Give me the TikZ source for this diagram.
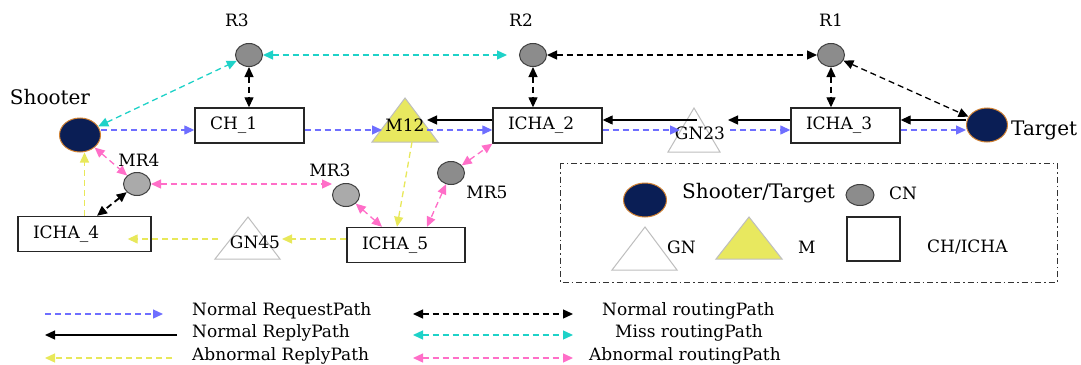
\documentclass[tikz,border=0pt]{standalone}
\usepackage{fontspec}
\setmainfont{DejaVu Serif}
\usetikzlibrary{arrows.meta,shapes.geometric}
\definecolor{reqblue}{RGB}{110,110,255}
\definecolor{misscyan}{RGB}{30,210,200}
\definecolor{abpink}{RGB}{255,110,200}
\definecolor{abyellow}{RGB}{232,232,90}
\definecolor{navy}{RGB}{10,30,85}
\definecolor{rim}{RGB}{210,130,50}
\definecolor{cngray}{RGB}{140,140,140}
\definecolor{mrgray}{RGB}{170,170,170}
\definecolor{mfill}{RGB}{232,232,95}
\definecolor{trigray}{RGB}{190,190,190}
\begin{document}
\begin{tikzpicture}[x=1pt,y=-1pt,font=\fontsize{17}{19}\selectfont,
  >={Triangle[length=10pt,width=9pt]},
  endpt/.style={ellipse,fill=navy,draw=rim,line width=1pt,minimum width=41pt,minimum height=34pt,inner sep=0pt},
  cn/.style={ellipse,fill=cngray,draw=black!75,line width=1pt,minimum width=27pt,minimum height=23pt,inner sep=0pt},
  mr/.style={cn,fill=mrgray},
  box/.style={draw=black!85,line width=1.4pt,fill=white,minimum height=35pt,inner xsep=15pt,inner ysep=0pt,align=left,text width=#1},
  lbl/.style={inner sep=0pt},
  bigl/.style={inner sep=0pt,font=\fontsize{20}{22}\selectfont},
  req/.style={reqblue,dash pattern=on 6pt off 4pt,line width=1.3pt,->},
  rep/.style={black,line width=1.3pt,->},
  abrep/.style={abyellow,dash pattern=on 6pt off 4pt,line width=1.3pt,->},
  route/.style={black,dash pattern=on 6pt off 4pt,line width=1.3pt,<->},
  miss/.style={misscyan,dash pattern=on 6pt off 4pt,line width=1.3pt,<->},
  abroute/.style={abpink,dash pattern=on 6pt off 4pt,line width=1.3pt,<->},
  gnT/.style={fill=white,draw=trigray,line width=1pt},
  mT/.style={fill=mfill,draw=trigray,line width=1pt},
  legframe/.style={draw=black!80,line width=1pt,dash pattern=on 6pt off 3pt on 1.5pt off 3pt}
]
\fill[white] (0,0) rectangle (1081,364);
\useasboundingbox (0,0) rectangle (1081,364);

% triangles
\draw[mT] (372,142) -- (438,142) -- (405,98) -- cycle;
\draw[gnT] (668,152) -- (720,152) -- (694,108) -- cycle;
\draw[gnT] (215,259) -- (280,259) -- (248,217) -- cycle;
\draw[gnT] (612,270) -- (677,270) -- (645,227) -- cycle;
\draw[mT] (716,259) -- (782,259) -- (749,217) -- cycle;

% nodes
\node[endpt] (shooter) at (80,135) {};
\node[endpt] (target) at (987,125) {};
\node[cn] (r3) at (249,55) {};
\node[cn] (r2) at (533,55) {};
\node[cn] (r1) at (831,55) {};
\node[mr] (mr4) at (137,184) {};
\node[mr] (mr3) at (346,195) {};
\node[cn] (mr5) at (451,173) {};
\node[box=79pt] (ch1) at (249.5,125.5) {CH\_1};
\node[box=79pt] (icha2) at (547.5,125.5) {ICHA\_2};
\node[box=79pt] (icha3) at (845.5,125.5) {ICHA\_3};
\node[box=103pt] (icha4) at (84.5,234) {ICHA\_4};
\node[box=88pt] (icha5) at (406,245) {ICHA\_5};

% labels
\node[lbl] (m12) at (405,125) {M12};
\node[lbl] (gn23) at (700,133) {GN23};
\node[lbl] (gn45) at (255,242) {GN45};
\node[lbl] (r3l) at (237,20) {R3};
\node[lbl] (r2l) at (521,20) {R2};
\node[lbl] (r1l) at (831,20) {R1};
\node[bigl] (shl) at (50,97) {Shooter};
\node[bigl,anchor=west] (tgl) at (1011,130) {Target};
\node[lbl] (mr4l) at (139,160) {MR4};
\node[lbl] (mr3l) at (330,170) {MR3};
\node[lbl] (mr5l) at (487,192) {MR5};

% request path
\draw[req] ([yshift=5pt]shooter.east) -- ([yshift=-4.5pt]ch1.west);
\draw[req] ([yshift=-4.5pt]ch1.east) -- ([xshift=-23pt,yshift=-5pt]m12.center);
\draw[req] ([xshift=22pt,yshift=-5pt]m12.center) -- ([yshift=-4.5pt]icha2.west);
\draw[req] ([yshift=-4.5pt]icha2.east) -- ([xshift=-20pt,yshift=3pt]gn23.center);
\draw[req] ([xshift=30pt,yshift=3pt]gn23.center) -- ([yshift=-4.5pt]icha3.west);
\draw[req] ([yshift=-4.5pt]icha3.east) -- ([yshift=-5pt]target.west);

% reply path
\draw[rep] ([yshift=5.5pt]icha2.west) -- ([xshift=22pt,yshift=5pt]m12.center);
\draw[rep] ([xshift=-3pt,yshift=13pt]gn23.center) -- ([yshift=5.5pt]icha2.east);
\draw[rep] ([yshift=5.5pt]icha3.west) -- ([xshift=28pt,yshift=13pt]gn23.center);
\draw[rep] ([yshift=5pt]target.west) -- ([yshift=5.5pt]icha3.east);

% abnormal reply
\draw[abrep] ([xshift=7pt,yshift=-17pt]m12.center) -- ([xshift=-9pt]icha5.north);
\draw[abrep] ([yshift=6pt]icha5.west) -- ([xshift=27pt,yshift=3pt]gn45.center);
\draw[abrep] ([xshift=-37pt,yshift=3pt]gn45.center) -- ([xshift=-24pt,yshift=-5pt]icha4.east);
\draw[abrep] (icha4.north) -- (icha4.north |- shooter.south);

% routing
\draw[miss] (shooter) -- (r3);
\draw[miss,shorten >=12pt] (r3) -- (r2);
\draw[route] (r2) -- (r1);
\draw[route] (r1) -- (target);
\draw[route] (r3) -- (r3 |- ch1.north);
\draw[route] (r2) -- (r2 |- icha2.north);
\draw[route] (r1) -- (r1 |- icha3.north);
\draw[route,line width=1.8pt] (mr4) -- ([xshift=12.5pt]icha4.north);
\draw[abroute] (shooter) -- (mr4);
\draw[abroute] (mr4.east) -- (mr4.east -| mr3.west);
\draw[abroute] (mr3) -- ([xshift=-24pt]icha5.north);
\draw[abroute] (mr5) -- ([xshift=21pt]icha5.north);
\draw[abroute] (mr5) -- (icha2.south west);

% legend box
\draw[legframe] (560,163) rectangle (1057,282);
\node[endpt,minimum width=43pt] (lgs) at (645,200) {};
\node[bigl,anchor=west] (lgst) at (682,193) {Shooter/Target};
\node[cn,minimum width=28pt,minimum height=21pt] (lgc) at (860,195) {};
\node[lbl,anchor=west] (lgct) at (889,193) {CN};
\node[lbl,anchor=west] (lggt) at (667,247) {GN};
\node[lbl,anchor=west] (lgmt) at (798,247) {M};
\node[draw=black!85,line width=1.4pt,minimum width=53pt,minimum height=44pt,inner sep=0pt] (lgb) at (873.5,239) {};
\node[lbl,anchor=west] (lgbt) at (927,247) {CH/ICHA};

% bottom legend
\coordinate (a1s) at (45,314); \coordinate (a1e) at (163,314);
\coordinate (a2s) at (177,335); \coordinate (a2e) at (45,335);
\coordinate (a3s) at (172,358); \coordinate (a3e) at (45,358);
\coordinate (b1s) at (413,314); \coordinate (b1e) at (573,314);
\coordinate (b2s) at (413,335); \coordinate (b2e) at (573,335);
\coordinate (b3s) at (413,358); \coordinate (b3e) at (573,358);
\draw[req] (a1s) -- (a1e);
\draw[rep] (a2s) -- (a2e);
\draw[abrep] (a3s) -- (a3e);
\draw[route] (b1s) -- (b1e);
\draw[miss] (b2s) -- (b2e);
\draw[abroute] (b3s) -- (b3e);
\node[lbl,anchor=west] (t1) at (192,311) {Normal RequestPath};
\node[lbl,anchor=west] (t2) at (192,333) {Normal ReplyPath};
\node[lbl,anchor=west] (t3) at (192,356) {Abnormal ReplyPath};
\node[lbl,anchor=west] (t4) at (602,311) {Normal routingPath};
\node[lbl,anchor=west] (t5) at (615,333) {Miss routingPath};
\node[lbl,anchor=west] (t6) at (589,356) {Abnormal routingPath};
\end{tikzpicture}
\end{document}
